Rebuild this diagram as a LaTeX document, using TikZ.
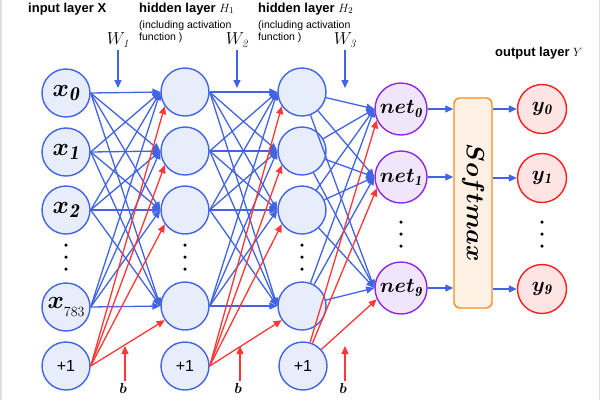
\documentclass[tikz,border=0pt]{standalone}
\usepackage{fontspec}
\newfontfamily\sansf{Liberation Sans}
\usetikzlibrary{arrows.meta}
\definecolor{nnblue}{RGB}{65,100,228}
\definecolor{nnfill}{RGB}{232,237,251}
\definecolor{nnpurple}{RGB}{140,40,232}
\definecolor{nnpfill}{RGB}{241,229,252}
\definecolor{nnred}{RGB}{250,30,30}
\definecolor{nnrfill}{RGB}{255,228,228}
\definecolor{nnorange}{RGB}{255,140,30}
\definecolor{nnofill}{RGB}{255,242,228}
\definecolor{nnarrowred}{RGB}{255,55,55}
\begin{document}
\begin{tikzpicture}[x=1pt,y=-1pt,
  neuron/.style={circle, draw=nnblue, fill=nnfill, line width=1.4pt, minimum size=48pt, inner sep=0pt},
  netn/.style={circle, draw=nnpurple, fill=nnpfill, line width=1.4pt, minimum size=52pt, inner sep=0pt},
  outn/.style={circle, draw=nnred, fill=nnrfill, line width=1.4pt, minimum size=49pt, inner sep=0pt},
  smbox/.style={draw=nnorange, fill=nnofill, line width=1.4pt, rounded corners=6pt, minimum width=38pt, minimum height=210pt, inner sep=0pt},
  barrow/.style={draw=nnblue, line width=1.3pt, -{Triangle[length=8pt,width=7pt]}},
  rarrow/.style={draw=nnarrowred, line width=1.3pt, -{Triangle[length=8pt,width=7pt]}},
  dotc/.style={circle, fill=black, inner sep=0pt, minimum size=3.5pt},
  title/.style={anchor=base west, inner sep=0pt, font=\sansf\bfseries\fontsize{13}{15}\selectfont},
  note/.style={anchor=north west, inner sep=0pt, align=left, font=\sansf\fontsize{10.5}{12}\selectfont},
  xlab/.style={font=\fontsize{28}{30}\selectfont\boldmath},
  netlab/.style={font=\fontsize{20}{22}\selectfont\boldmath},
  ylab/.style={font=\fontsize{21}{23}\selectfont\boldmath},
  onelab/.style={font=\sansf\fontsize{16}{18}\selectfont},
  wlab/.style={font=\fontsize{16}{18}\selectfont},
  blab/.style={anchor=north, inner sep=0pt, font=\fontsize{14}{16}\selectfont\boldmath},
]
\useasboundingbox (0,0) rectangle (600,400);
\fill[white] (0,0) rectangle (600,400);
\draw[black!12, line width=1.5pt] (0.75,0) -- (0.75,400);
\draw[black!12, line width=1.5pt] (599.25,0) -- (599.25,400);

% titles
\node[title] (t1) at (28,12) {input layer X};
\node[title] (t2) at (139,12) {hidden layer \normalfont$H_{1}$};
\node[title] (t3) at (258,12) {hidden layer \normalfont$H_{2}$};
\node[title] (t4) at (495,56) {output layer \normalfont$Y$};
\node[note] (n1t) at (139,21) {(including activation\\function )};
\node[note] (n2t) at (258,21) {(including activation\\function )};

% input layer
\node[neuron] (x0) at (66,93) {};
\node[neuron] (x1) at (66,152) {};
\node[neuron] (x2) at (66,210) {};
\node[neuron] (x3) at (66,307) {};
\node[neuron] (b1) at (66,366) {};
% hidden 1
\node[neuron] (h10) at (185,92) {};
\node[neuron] (h11) at (185,151) {};
\node[neuron] (h12) at (185,210) {};
\node[neuron] (h13) at (185,306) {};
\node[neuron] (b2) at (185,366) {};
% hidden 2
\node[neuron] (h20) at (302,92) {};
\node[neuron] (h21) at (302,151) {};
\node[neuron] (h22) at (302,210) {};
\node[neuron] (h23) at (302,306) {};
\node[neuron] (b3) at (303,366) {};
% nets
\node[netn] (n0) at (401,109) {};
\node[netn] (n1) at (401,177) {};
\node[netn] (n9) at (401,288) {};
% softmax
\node[smbox] (sm) at (473,203) {};
% outputs
\node[outn] (y0) at (542,109) {};
\node[outn] (y1) at (542,178) {};
\node[outn] (y9) at (542,289) {};

% connections input -> hidden1
\foreach \s in {x0,x1,x2,x3}
  \foreach \t in {h10,h11,h12,h13}
    \draw[barrow] (\s.east) -- (\t.west);
\foreach \t in {h10,h11,h12,h13}
  \draw[rarrow] (b1.east) -- (\t.215);
% hidden1 -> hidden2
\foreach \s in {h10,h11,h12,h13}
  \foreach \t in {h20,h21,h22,h23}
    \draw[barrow] (\s.east) -- (\t.west);
\foreach \t in {h20,h21,h22,h23}
  \draw[rarrow] (b2.east) -- (\t.215);
% hidden2 -> nets
\foreach \s in {h20,h21,h22,h23}
  \foreach \t in {n0,n1,n9}
    \draw[barrow] (\s) -- (\t.west);
\foreach \t in {n0,n1,n9}
  \draw[rarrow] (b3) -- (\t.205);
% nets -> softmax -> outputs
\foreach \t in {n0,n1,n9}
  \draw[barrow] (\t.east) -- (\t.east -| sm.west);
\foreach \t in {y0,y1,y9}
  \draw[barrow] (\t.west -| sm.east) -- (\t.west);

% node labels
\node[xlab] at (x0) {$x_{\mathit{0}}$};
\node[xlab] at (x1) {$x_{\mathit{1}}$};
\node[xlab] at (x2) {$x_{\mathit{2}}$};
\node[xlab] at (x3) {$x$\raisebox{-8pt}{\fontsize{14}{14}\selectfont\mdseries\unboldmath 783}};
\node[onelab] at (b1) {+1};
\node[onelab] at (b2) {+1};
\node[onelab] at (b3) {+1};
\node[netlab] at (n0) {$net_{\mathit{0}}$};
\node[netlab] at (n1) {$net_{\mathit{1}}$};
\node[netlab] at (n9) {$net_{\mathit{9}}$};
\node[ylab] at (y0) {$y_{\mathit{0}}$};
\node[ylab] at (y1) {$y_{\mathit{1}}$};
\node[ylab] at (y9) {$y_{\mathit{9}}$};
\node[rotate=-90, font=\fontsize{25}{27}\selectfont\boldmath] (smt) at (sm) {$Softmax$};

% dots
\foreach \cx in {66,185,302} {
  \node[dotc] at (\cx,245) {};
  \node[dotc] at (\cx,257) {};
  \node[dotc] at (\cx,269) {};
}
\foreach \cx in {401,542} {
  \node[dotc] at (\cx,222) {};
  \node[dotc] at (\cx,234) {};
  \node[dotc] at (\cx,246) {};
}

% weights
\node[wlab] (W1) at (118,40) {$W_{\mathit{1}}$};
\node[wlab] (W2) at (237,40) {$W_{\mathit{2}}$};
\node[wlab] (W3) at (345,40) {$W_{\mathit{3}}$};
\coordinate (w1s) at (118,50); \coordinate (w1e) at (118,88);
\coordinate (w2s) at (237,50); \coordinate (w2e) at (237,88);
\coordinate (w3s) at (345,50); \coordinate (w3e) at (345,88);
\draw[barrow] (w1s) -- (w1e);
\draw[barrow] (w2s) -- (w2e);
\draw[barrow] (w3s) -- (w3e);

% biases
\node[blab] (bl1) at (123,383) {$b$};
\node[blab] (bl2) at (238,383) {$b$};
\node[blab] (bl3) at (343,383) {$b$};
\coordinate (bs1) at (125,381); \coordinate (be1) at (125,346);
\coordinate (bs2) at (240,381); \coordinate (be2) at (240,346);
\coordinate (bs3) at (345,381); \coordinate (be3) at (345,346);
\draw[rarrow] (bs1) -- (be1);
\draw[rarrow] (bs2) -- (be2);
\draw[rarrow] (bs3) -- (be3);
\end{tikzpicture}
\end{document}
